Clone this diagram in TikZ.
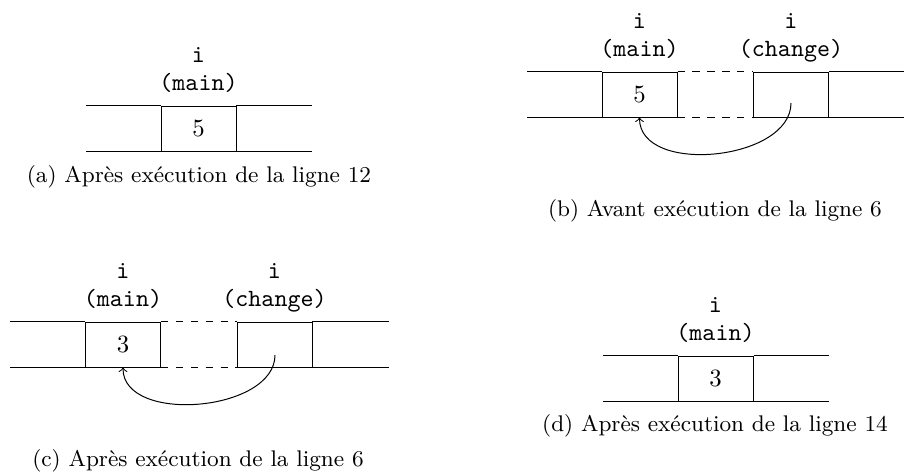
\documentclass[tikz,border=0pt]{standalone}
\usepackage{fontspec}
\begin{document}
\begin{tikzpicture}[x=0.4032pt, y=-0.4032pt,
  cell/.style={draw, minimum width=30.24pt, minimum height=18.14pt, inner sep=0pt},
  lbl/.style={font=\ttfamily, anchor=base, inner sep=0pt},
  subcap/.style={inner sep=0pt, font=\fontsize{9.13}{11}\selectfont},
  ptr/.style={->},
  gap/.style={dashed}]
\useasboundingbox (0,0) rectangle (904,472);

% ---------- (a)
\node[cell] (a5) at (198.5,128.5) {5};
\draw (a5.north west) -- ++(-75,0) (a5.south west) -- ++(-75,0)
      (a5.north east) -- ++(76,0) (a5.south east) -- ++(76,0);
\node[lbl] (ai) at (198.5,62) {i};
\node[lbl] (am) at (198.5,90.5) {(main)};
\node[subcap] (acap) at (199,177) {(a) Après exécution de la ligne 12};

% ---------- (b)
\node[cell] (bm) at (639.5,94.5) {5};
\node[cell] (bc) at (791,94.5) {};
\draw (bm.north west) -- ++(-75,0) (bm.south west) -- ++(-75,0)
      (bc.north east) -- ++(75,0) (bc.south east) -- ++(75,0);
\draw[gap] (bm.north east) -- (bc.north west) (bm.south east) -- (bc.south west);
\node[lbl] (bmi) at (639.5,28) {i};
\node[lbl] (bmm) at (639.5,56.5) {(main)};
\node[lbl] (bci) at (791,28) {i};
\node[lbl] (bcc) at (791,56.5) {(change)};
\coordinate (bs) at (791,103);
\draw[ptr] (bs) .. controls +(0,58) and +(0,58) .. (bm.south);
\node[subcap] (bcap) at (715,211) {(b) Avant exécution de la ligne 6};

% ---------- (c)
\node[cell] (cm) at (123,344.5) {3};
\node[cell] (cc) at (274.5,344.5) {};
\draw (cm.north west) -- ++(-75,0) (cm.south west) -- ++(-75,0)
      (cc.north east) -- ++(76,0) (cc.south east) -- ++(76,0);
\draw[gap] (cm.north east) -- (cc.north west) (cm.south east) -- (cc.south west);
\node[lbl] (cmi) at (123,278) {i};
\node[lbl] (cmm) at (123,306.5) {(main)};
\node[lbl] (cci) at (274.5,278) {i};
\node[lbl] (ccc) at (274.5,306.5) {(change)};
\coordinate (cs) at (275,355);
\draw[ptr] (cs) .. controls +(0,57) and +(0,57) .. (cm.south);
\node[subcap] (ccap) at (198,461) {(c) Après exécution de la ligne 6};

% ---------- (d)
\node[cell] (d3) at (715.5,378.5) {3};
\draw (d3.north west) -- ++(-75,0) (d3.south west) -- ++(-75,0)
      (d3.north east) -- ++(75,0) (d3.south east) -- ++(75,0);
\node[lbl] (di) at (715.5,312) {i};
\node[lbl] (dm) at (715.5,340.5) {(main)};
\node[subcap] (dcap) at (715,426) {(d) Après exécution de la ligne 14};
\end{tikzpicture}
\end{document}
